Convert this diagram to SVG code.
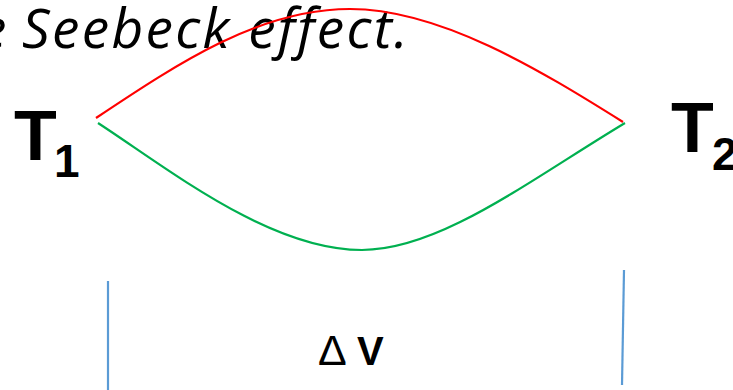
<svg xmlns="http://www.w3.org/2000/svg" width="733" height="390" viewBox="0 0 733 390">
<style>
.title{font-family:"Open Sans","Noto Sans",sans-serif;font-style:italic;font-size:55px;letter-spacing:2.3px;fill:#000}
.lbl{font-family:"Liberation Sans",Arial,sans-serif;font-weight:bold;fill:#000}
.wire{fill:none;stroke-width:2.2}
.probe{stroke:#5b9bd5;stroke-width:2.2;fill:none}
</style>
<rect width="733" height="390" fill="#fff"/>
<text class="title" y="48"><tspan x="-21">e</tspan><tspan x="22">Seebeck effect.</tspan></text>
<g id="connectors">
<path id="red-wire" class="wire" stroke="#ff0000" d="M96,118 C180,62 260,9 350,9 C440,9 540,70 623,122"/>
<path id="green-wire" class="wire" stroke="#00b050" d="M98,123 C170,170 270,250 362,250 C440,250 530,180 625,123"/>
<path id="probe-left" class="probe" d="M108,281 L108,390"/>
<path id="probe-right" class="probe" d="M624,270 L622,385"/>
</g>
<g id="T1">
<text class="lbl" x="14" y="160" font-size="70">T</text>
<text class="lbl" x="54" y="177" font-size="46">1</text>
</g>
<g id="T2">
<text class="lbl" x="671" y="152" font-size="70">T</text>
<text class="lbl" x="712" y="170" font-size="46">2</text>
</g>
<g id="deltaV">
<text class="lbl" y="365" font-size="40"><tspan x="318" font-weight="normal" font-size="43">Δ</tspan><tspan x="357">V</tspan></text>
</g>
</svg>
